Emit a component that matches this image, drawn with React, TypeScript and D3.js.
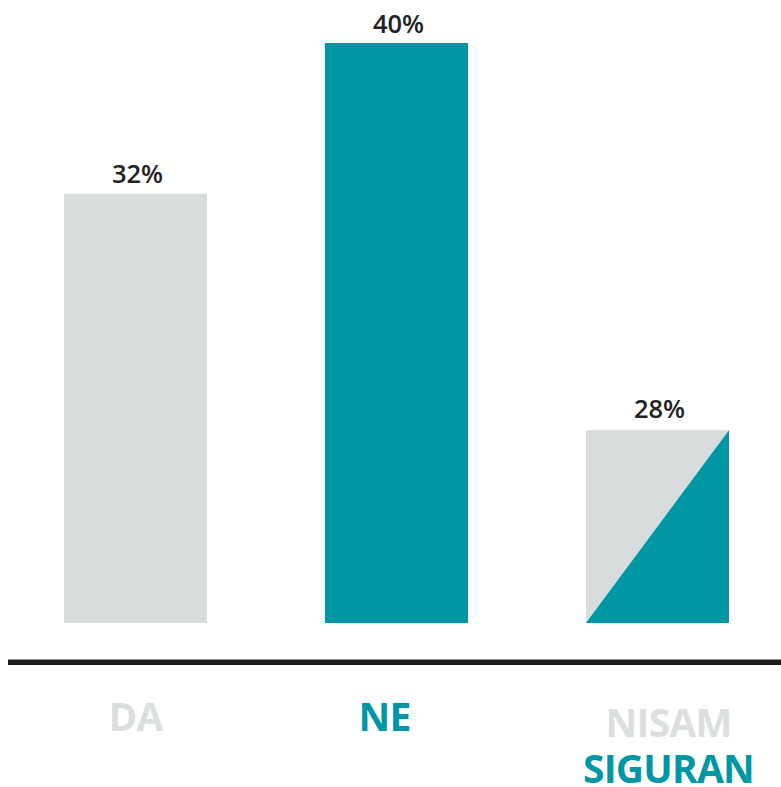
import { useEffect, useRef } from "react";
import * as d3 from "d3";

const W = 781,
  H = 787;

// answers and the percentages printed above the bars
const categories = ["DA", "NE", "NISAM SIGURAN"];
const percents = [32, 40, 28];
// bar heights as drawn in the original (it is not to scale), same units as percent
const barLevels = [29.6, 40, 13.3];
// label lines under the axis, each line with its colour key
const labelLines = [
  [{ text: "DA", tone: "grey" }],
  [{ text: "NE", tone: "teal" }],
  [
    { text: "NISAM", tone: "grey" },
    { text: "SIGURAN", tone: "teal" },
  ],
];
const barTones = ["grey", "teal", "split"];

const GREY = "#d9dcdd";
const GREY_TEXT = "#dcdfe0";
const TEAL = "#0097a4";
const INK = "#222222";

function App() {
  const svgRef = useRef(null);

  useEffect(() => {
    const svg = d3.select(svgRef.current);
    svg.selectAll("*").remove();

    // bars at 64..207, 325..468, 586..729
    const x = d3
      .scaleBand()
      .domain(categories)
      .range([5, 788])
      .paddingInner(118 / 261)
      .paddingOuter(59 / 261);

    const y = d3.scaleLinear().domain([0, 40]).range([623, 43]);

    const g = svg.append("g");

    categories.forEach((c, i) => {
      const x0 = x(c) as number;
      const bw = x.bandwidth();
      const y0 = y(barLevels[i]);
      const yb = y(0);
      if (barTones[i] === "split") {
        g.append("rect")
          .attr("x", x0)
          .attr("y", y0)
          .attr("width", bw)
          .attr("height", yb - y0)
          .attr("fill", GREY);
        g.append("path")
          .attr("d", `M${x0},${yb}L${x0 + bw},${y0}L${x0 + bw},${yb}Z`)
          .attr("fill", TEAL);
      } else {
        g.append("rect")
          .attr("x", x0)
          .attr("y", y0)
          .attr("width", bw)
          .attr("height", yb - y0)
          .attr("fill", barTones[i] === "teal" ? TEAL : GREY);
      }

      g.append("text")
        .attr("x", x0 + bw / 2 + 2)
        .attr("y", y0 - (i === 2 ? 12.5 : 10.5))
        .attr("text-anchor", "middle")
        .attr("font-family", "'Open Sans', sans-serif")
        .attr("font-weight", 600)
        .attr("font-size", 25.5)
        .attr("fill", INK)
        .text(percents[i] + "%");

      // category labels
      const lines = labelLines[i];
      const cx = i === 0 ? x0 + bw / 2 : i === 1 ? x0 + bw / 2 - 12 : x0 + bw / 2 + 11;
      const firstBase = lines.length > 1 ? 736.5 : 731;
      lines.forEach((ln, j) => {
        g.append("text")
          .attr("x", cx)
          .attr("y", firstBase + j * 46.5)
          .attr("text-anchor", "middle")
          .attr("font-family", "'Open Sans', sans-serif")
          .attr("font-weight", 700)
          .attr("font-size", 39)
          .attr("letter-spacing", -0.8)
          .attr("fill", ln.tone === "teal" ? TEAL : GREY_TEXT)
          .text(ln.text);
      });
    });

    // baseline
    svg
      .append("rect")
      .attr("x", 8)
      .attr("y", 659.5)
      .attr("width", W - 8)
      .attr("height", 5.5)
      .attr("fill", "#1d1d1b");
  }, []);

  return (
    <svg
      ref={svgRef}
      width={W}
      height={H}
      style={{ position: "absolute", left: 0, top: 0, display: "block", background: "#fff" }}
    ></svg>
  );
}

export default App;
